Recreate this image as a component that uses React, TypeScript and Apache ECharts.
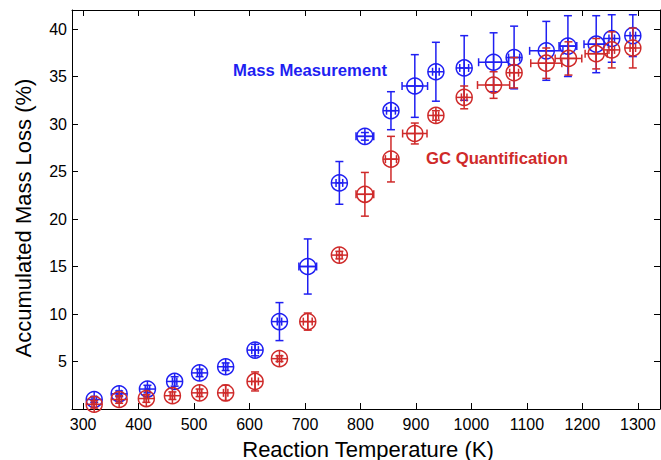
import React, { useEffect, useRef } from "react";
import * as echarts from "echarts";

// Mass Measurement (blue)
const massTemp = [320, 365, 416, 465, 510, 557, 610, 654, 705, 762, 808, 855, 898, 936, 987, 1040, 1077, 1135, 1174, 1225, 1253, 1291];
const massLoss = [1.0, 1.6, 2.1, 2.9, 3.8, 4.45, 6.2, 9.2, 15.0, 23.8, 28.7, 31.4, 34.0, 35.5, 35.9, 36.5, 37.0, 37.7, 38.2, 38.4, 39.0, 39.3];
const massYErr = [0.3, 0.3, 0.4, 0.5, 0.4, 0.4, 0.6, 2.0, 2.9, 2.25, 0.4, 2.0, 3.3, 3.1, 3.4, 3.1, 3.3, 3.1, 3.2, 3.0, 2.5, 2.2];
const massXErr = [4, 4, 4, 4, 4, 4, 6, 4, 16, 6, 16, 8, 23, 6, 8, 27, 10, 30, 16, 22, 5, 5];

// GC Quantification (red)
const gcTemp = [320, 365, 414, 461, 510, 557, 610, 654, 705, 762, 808, 855, 898, 936, 987, 1040, 1077, 1135, 1175, 1225, 1253, 1291];
const gcLoss = [0.5, 1.0, 1.1, 1.4, 1.7, 1.7, 2.9, 5.3, 9.2, 16.2, 22.6, 26.3, 29.0, 30.9, 32.8, 34.1, 35.4, 36.4, 36.9, 37.4, 37.8, 38.0];
const gcYErr = [0.4, 0.4, 0.4, 0.4, 0.4, 0.8, 1.0, 0.3, 0.9, 0.4, 2.3, 2.4, 1.1, 0.5, 1.2, 1.4, 1.6, 1.6, 1.75, 1.6, 1.9, 2.1];
const gcXErr = [4, 4, 4, 4, 4, 4, 6, 4, 8, 5, 16, 10, 22, 5, 5, 29, 8, 28, 24, 20, 5, 5];

const xTicks = [300, 400, 500, 600, 700, 800, 900, 1000, 1100, 1200, 1300];
const yTicks = [5, 10, 15, 20, 25, 30, 35, 40];

const BLUE = "#1f1ff2";
const RED = "#cf2a2a";
const FONT = "Liberation Sans, Arial, sans-serif";

function makeRenderItem(color: string) {
  return (params: any, api: any) => {
    const x = api.value(0);
    const y = api.value(1);
    const xe = api.value(2);
    const ye = api.value(3);
    const c = api.coord([x, y]);
    const t = api.coord([x, y + ye]);
    const b = api.coord([x, y - ye]);
    const l = api.coord([x - xe, y]);
    const r = api.coord([x + xe, y]);
    const R = 8;
    const cap = 4;
    const style = { stroke: color, lineWidth: 1.5, fill: "transparent" };
    return {
      type: "group",
      children: [
        { type: "circle", shape: { cx: c[0], cy: c[1], r: R }, style },
        { type: "line", shape: { x1: c[0] - R, y1: c[1], x2: c[0] + R, y2: c[1] }, style },
        { type: "line", shape: { x1: c[0], y1: c[1] - R, x2: c[0], y2: c[1] + R }, style },
        { type: "line", shape: { x1: t[0], y1: t[1], x2: b[0], y2: b[1] }, style },
        { type: "line", shape: { x1: t[0] - cap, y1: t[1], x2: t[0] + cap, y2: t[1] }, style },
        { type: "line", shape: { x1: b[0] - cap, y1: b[1], x2: b[0] + cap, y2: b[1] }, style },
        { type: "line", shape: { x1: l[0], y1: l[1], x2: r[0], y2: r[1] }, style },
        { type: "line", shape: { x1: l[0], y1: l[1] - cap, x2: l[0], y2: l[1] + cap }, style },
        { type: "line", shape: { x1: r[0], y1: r[1] - cap, x2: r[0], y2: r[1] + cap }, style },
      ],
    };
  };
}

export default function App() {
  const ref = useRef<HTMLDivElement>(null);
  useEffect(() => {
    document.body.style.margin = "0";
    if (!ref.current) return;
    const chart = echarts.init(ref.current, null, { renderer: "svg" });
    const massData = massTemp.map((t, i) => [t, massLoss[i], massXErr[i], massYErr[i]]);
    const gcData = gcTemp.map((t, i) => [t, gcLoss[i], gcXErr[i], gcYErr[i]]);
    const axisLine = { show: true, onZero: false, lineStyle: { color: "#000", width: 1 } };
    const tickStyle = { color: "#000", width: 1 };
    const plain = (v: number) => String(v);
    chart.setOption({
      animation: false,
      backgroundColor: "#fff",
      grid: { left: 72, right: 1, top: 10, bottom: 51, containLabel: false },
      xAxis: [
        {
          type: "value",
          min: 280,
          max: 1340,
          position: "bottom",
          axisLine,
          axisTick: { show: true, inside: true, length: 6, customValues: xTicks, lineStyle: tickStyle },
          axisLabel: { customValues: xTicks, formatter: plain, fontSize: 16, color: "#000", fontFamily: FONT, margin: 7 },
          splitLine: { show: false },
        },
        {
          type: "value",
          min: 280,
          max: 1340,
          position: "top",
          axisLine,
          axisTick: { show: true, inside: true, length: 6, customValues: xTicks, lineStyle: tickStyle },
          axisLabel: { show: false },
          splitLine: { show: false },
        },
      ],
      yAxis: [
        {
          type: "value",
          min: 0,
          max: 42,
          position: "left",
          axisLine,
          axisTick: { show: true, inside: true, length: 6, customValues: yTicks, lineStyle: tickStyle },
          axisLabel: { customValues: yTicks, formatter: plain, fontSize: 16, color: "#000", fontFamily: FONT, margin: 5 },
          splitLine: { show: false },
        },
        {
          type: "value",
          min: 0,
          max: 42,
          position: "right",
          axisLine,
          axisTick: { show: true, inside: true, length: 6, customValues: yTicks, lineStyle: tickStyle },
          axisLabel: { show: false },
          splitLine: { show: false },
        },
      ],
      series: [
        {
          type: "custom",
          name: "Mass Measurement",
          xAxisIndex: 0,
          yAxisIndex: 0,
          renderItem: makeRenderItem(BLUE),
          encode: { x: 0, y: 1 },
          data: massData,
          clip: false,
        },
        {
          type: "custom",
          name: "GC Quantification",
          xAxisIndex: 0,
          yAxisIndex: 0,
          renderItem: makeRenderItem(RED),
          encode: { x: 0, y: 1 },
          data: gcData,
          clip: false,
        },
      ],
      graphic: [
        {
          type: "text",
          left: 233,
          top: 62,
          style: { text: "Mass Measurement", fill: BLUE, font: `bold 16.7px ${FONT}` },
        },
        {
          type: "text",
          left: 426,
          top: 150,
          style: { text: "GC Quantification", fill: RED, font: `bold 16.7px ${FONT}` },
        },
        {
          type: "text",
          x: 368,
          y: 449,
          style: { text: "Reaction Temperature (K)", fill: "#000", font: `22px ${FONT}`, align: "center", verticalAlign: "middle" },
        },
        {
          type: "text",
          x: 23,
          y: 218,
          rotation: Math.PI / 2,
          style: { text: "Accumulated Mass Loss (%)", fill: "#000", font: `22px ${FONT}`, align: "center", verticalAlign: "middle" },
        },
      ],
    });
    return () => chart.dispose();
  }, []);
  return <div ref={ref} style={{ width: 661, height: 460 }} />;
}
